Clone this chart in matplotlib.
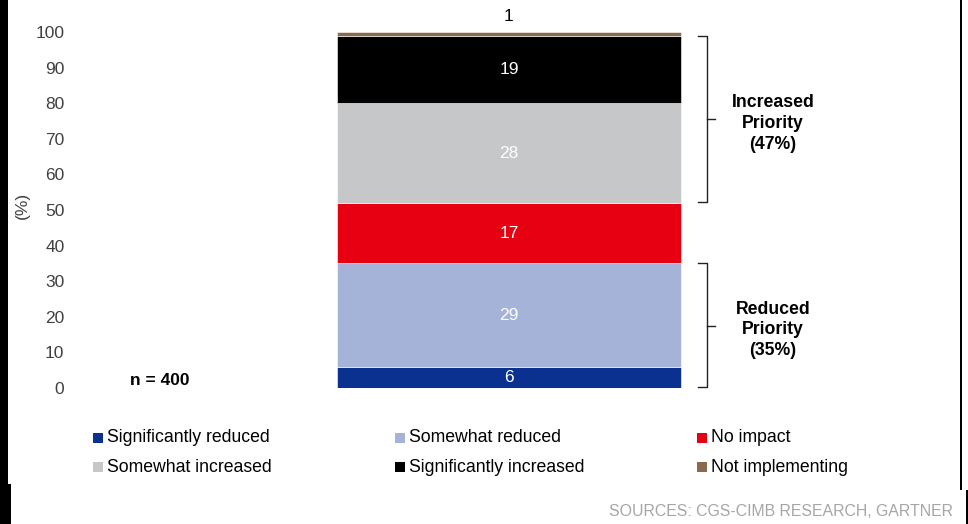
import matplotlib
matplotlib.use("Agg")
import matplotlib.pyplot as plt
from matplotlib.patches import Rectangle

plt.rcParams['font.family'] = ['Liberation Sans', 'DejaVu Sans']

# data
categories = ["Significantly reduced", "Somewhat reduced", "No impact",
              "Somewhat increased", "Significantly increased", "Not implementing"]
values = [6, 29, 17, 28, 19, 1]
colors = ["#0B3190", "#A6B3D8", "#E60012", "#C6C7C9", "#000000", "#8B6A4B"]
label_colors = ["white", "white", "white", "white", "white", "black"]
yticks = [0, 10, 20, 30, 40, 50, 60, 70, 80, 90, 100]
groups = [("Increased\nPriority\n(47%)", 52, 99), ("Reduced\nPriority\n(35%)", 0, 35)]

W, H = 968, 524
fig = plt.figure(figsize=(W / 100, H / 100), dpi=100)
ax = fig.add_axes([70 / W, (H - 388) / H, 880 / W, 356 / H])

bottom = 0
for v, c, lc in zip(values, colors, label_colors):
    ax.bar(0, v, width=1, bottom=bottom, color=c, edgecolor="white", linewidth=0.4)
    if v > 2:
        ax.text(0, bottom + v / 2, str(v), ha="center", va="center", color=lc, fontsize=12.5)
    else:
        ax.text(0, bottom + v + 2.3, str(v), ha="center", va="bottom", color=lc, fontsize=12.5,
                clip_on=False)
    bottom += v

ax.set_xlim(-1.276, 1.282)
ax.set_ylim(0, 100)
ax.set_yticks(yticks)
ax.set_xticks([])
ax.tick_params(axis="y", length=0, pad=4, labelsize=12.5, labelcolor="#404040")
for s in ax.spines.values():
    s.set_visible(False)
fig.text(22 / W, (H - 205) / H, "(%)", rotation=90, ha="center", va="center",
         fontsize=12.5, color="#404040")

# brackets
xb, xe, xm = 0.576, 0.549, 0.599
for text, y0, y1 in groups:
    ym = (y0 + y1) / 2
    ax.plot([xe, xb, xb, xe], [y0 + 0.3, y0 + 0.3, y1, y1], color="#222222", lw=1,
            clip_on=False)
    ax.plot([xb, xm], [ym, ym], color="#222222", lw=1, clip_on=False)
    ax.text(0.767, ym - 1.2, text, ha="center", va="center", fontsize=12.7, fontweight="bold",
            linespacing=1.27)

ax.text(-1.015, 2.2, "n = 400", ha="center", va="center", fontsize=12.5, fontweight="bold")

# legend laid out in rows of three
for i, (lab, c) in enumerate(zip(categories, colors)):
    px = 93 + 302 * (i % 3)
    py = 438 + 29 * (i // 3)
    fig.add_artist(Rectangle((px / W, (H - py - 5) / H), 10 / W, 10 / H,
                             transform=fig.transFigure, color=c, lw=0))
    fig.text((px + 14) / W, (H - py) / H, lab, ha="left", va="center", fontsize=12.7,
             color="#000000")

fig.text(953 / W, (H - 511) / H, "SOURCES: CGS-CIMB RESEARCH, GARTNER", ha="right",
         va="center", fontsize=11.4, color="#A6A6A6")

# frame edges from the original crop
fig.add_artist(Rectangle((0, 0), 8 / W, 1, transform=fig.transFigure, color="black", lw=0))
fig.add_artist(Rectangle((0, 0), 11 / W, 40 / H, transform=fig.transFigure, color="black", lw=0))
fig.add_artist(Rectangle((959.5 / W, 34 / H), 2 / W, 1, transform=fig.transFigure,
                         color="black", lw=0))
fig.add_artist(Rectangle((966 / W, 0), 2 / W, 34 / H, transform=fig.transFigure,
                         color="black", lw=0))

fig.savefig("out.png", dpi=100)
